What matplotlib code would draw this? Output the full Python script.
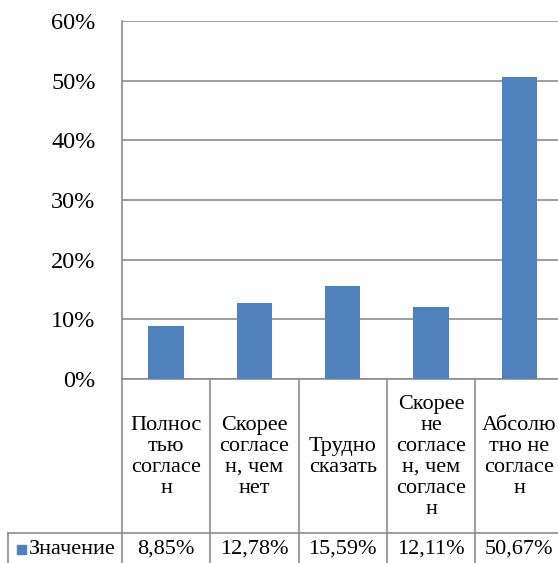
"""Bar chart with an Excel-style data table underneath (survey answers)."""

import matplotlib

matplotlib.use("Agg")

import matplotlib.pyplot as plt
from matplotlib.transforms import blended_transform_factory

categories = [
    "Полнос\nтью\nсогласе\nн",
    "Скорее\nсогласе\nн, чем\nнет",
    "Трудно\nсказать",
    "Скорее\nне\nсогласе\nн, чем\nсогласе\nн",
    "Абсолю\nтно не\nсогласе\nн",
]
values = [8.85, 12.78, 15.59, 12.11, 50.67]
value_labels = ["8,85%", "12,78%", "15,59%", "12,11%", "50,67%"]
series_name = "Значение"
y_ticks = [0, 10, 20, 30, 40, 50, 60]

BAR_COLOR = "#4F81BD"
LINE_COLOR = "#8C8C8C"
W, H = 558, 563


def main() -> None:
    plt.rcParams["font.family"] = "serif"
    plt.rcParams["font.serif"] = ["Liberation Serif", "DejaVu Serif"]
    fig = plt.figure(figsize=(W / 100, H / 100), dpi=100)

    # plot area in pixels: left 122, top 21, zero line at 379, cell width ~88.3
    cell = 88.3
    left, top, base = 122, 21, 379
    ax = fig.add_axes([left / W, (H - base) / H, 5 * cell / W, (base - top) / H])

    x = list(range(len(values)))
    ax.bar(x, values, width=0.4, color=BAR_COLOR, zorder=3)
    ax.set_xlim(-0.5, len(values) - 0.5)
    ax.set_ylim(0, 60)
    ax.set_yticks(y_ticks)
    ax.set_yticklabels([f"{t}%" for t in y_ticks], fontsize=17.5)
    ax.set_xticks([])
    ax.tick_params(axis="y", length=0, pad=19)
    ax.grid(axis="y", color=LINE_COLOR, linewidth=1.2, zorder=0)
    for side in ("top", "right"):
        ax.spines[side].set_visible(False)
    for side in ("left", "bottom"):
        ax.spines[side].set_color(LINE_COLOR)
        ax.spines[side].set_linewidth(1.2)

    # data table below the plot area (x in data units, y in pixels from top)
    px = blended_transform_factory(ax.transData, fig.transFigure)

    def fy(py):
        return (H - py) / H

    row_line = 533
    table_left = -0.5 + (8 - left) / cell
    right_edge = len(values) - 0.5
    line_kw = dict(color=LINE_COLOR, linewidth=1.2, transform=px, clip_on=False)
    for b in range(len(values) + 1):
        ax.plot([b - 0.5, b - 0.5], [fy(base), fy(H + 5)], **line_kw)
    ax.plot([table_left, right_edge], [fy(row_line), fy(row_line)], **line_kw)
    ax.plot([table_left, table_left], [fy(row_line), fy(H + 5)], **line_kw)

    for i, (label, vlabel) in enumerate(zip(categories, value_labels)):
        ax.text(i, fy(457), label, transform=px, ha="center", va="center",
                fontsize=16, linespacing=1.13, clip_on=False)
        ax.text(i, fy(549), vlabel, transform=px, ha="center", va="center",
                fontsize=16, clip_on=False)

    # legend key inside the row header cell
    fig.patches.append(plt.Rectangle((17 / W, fy(554)), 9 / W, 9 / H,
                                     transform=fig.transFigure, color=BAR_COLOR))
    fig.text(29 / W, fy(549), series_name, ha="left", va="center", fontsize=16)

    fig.savefig("out.png", dpi=100)
    plt.close(fig)


if __name__ == "__main__":
    main()
